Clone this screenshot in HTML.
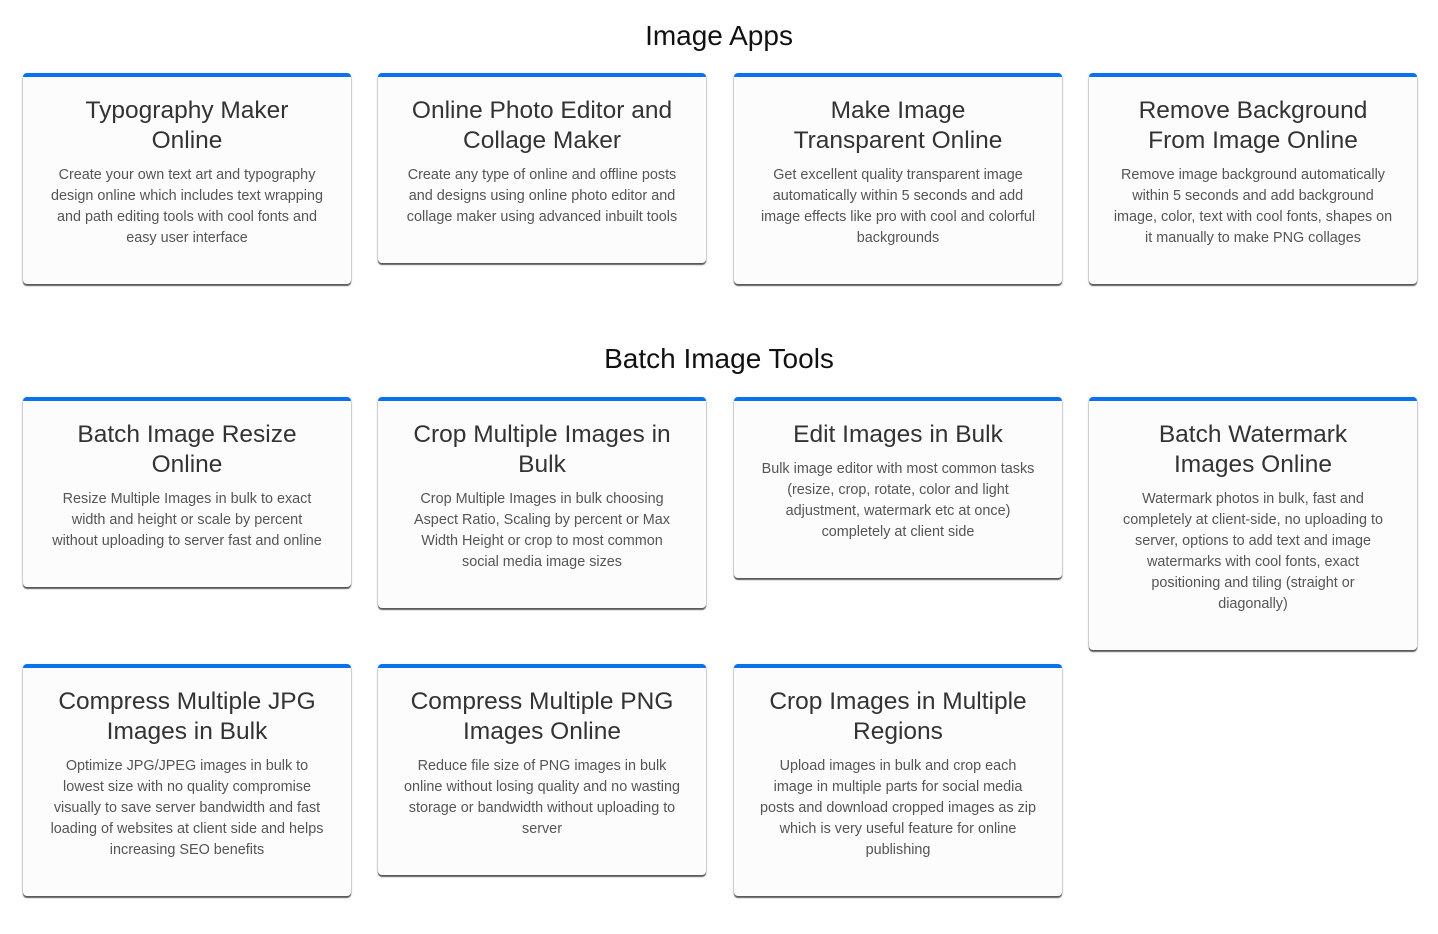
<!DOCTYPE html>
<html><head><meta charset="utf-8"><style>
body{margin:0;width:1438px;height:934px;background:#fff;position:relative;font-family:"Liberation Sans",sans-serif;overflow:hidden}
h2{position:absolute;left:0;width:1438px;text-align:center;margin:0;font-weight:normal;font-size:28px;color:#111;line-height:34px}
.c{position:absolute;width:328px;box-sizing:border-box;background:#fcfcfc;border-top:4px solid #0b72ee;border-radius:4px;box-shadow:0 1px 2px rgba(0,0,0,.35),0 2px 1px rgba(0,0,0,.55);text-align:center;padding:19px 6px 0}
.t{font-size:24.5px;line-height:30px;color:#333}
.d{font-size:14.4px;line-height:21px;color:#555;margin-top:9px;white-space:nowrap}
</style></head><body>
<h2 style="top:19px">Image Apps</h2>
<div class="c" style="left:23px;top:73px;height:211px"><div class="t">Typography Maker<br>Online</div><div class="d">Create your own text art and typography<br>design online which includes text wrapping<br>and path editing tools with cool fonts and<br>easy user interface</div></div>
<div class="c" style="left:378px;top:73px;height:190px"><div class="t">Online Photo Editor and<br>Collage Maker</div><div class="d">Create any type of online and offline posts<br>and designs using online photo editor and<br>collage maker using advanced inbuilt tools</div></div>
<div class="c" style="left:734px;top:73px;height:211px"><div class="t">Make Image<br>Transparent Online</div><div class="d">Get excellent quality transparent image<br>automatically within 5 seconds and add<br>image effects like pro with cool and colorful<br>backgrounds</div></div>
<div class="c" style="left:1089px;top:73px;height:211px"><div class="t">Remove Background<br>From Image Online</div><div class="d">Remove image background automatically<br>within 5 seconds and add background<br>image, color, text with cool fonts, shapes on<br>it manually to make PNG collages</div></div>
<h2 style="top:342px">Batch Image Tools</h2>
<div class="c" style="left:23px;top:397px;height:190px"><div class="t">Batch Image Resize<br>Online</div><div class="d">Resize Multiple Images in bulk to exact<br>width and height or scale by percent<br>without uploading to server fast and online</div></div>
<div class="c" style="left:378px;top:397px;height:211px"><div class="t">Crop Multiple Images in<br>Bulk</div><div class="d">Crop Multiple Images in bulk choosing<br>Aspect Ratio, Scaling by percent or Max<br>Width Height or crop to most common<br>social media image sizes</div></div>
<div class="c" style="left:734px;top:397px;height:181px"><div class="t">Edit Images in Bulk</div><div class="d">Bulk image editor with most common tasks<br>(resize, crop, rotate, color and light<br>adjustment, watermark etc at once)<br>completely at client side</div></div>
<div class="c" style="left:1089px;top:397px;height:253px"><div class="t">Batch Watermark<br>Images Online</div><div class="d">Watermark photos in bulk, fast and<br>completely at client-side, no uploading to<br>server, options to add text and image<br>watermarks with cool fonts, exact<br>positioning and tiling (straight or<br>diagonally)</div></div>
<div class="c" style="left:23px;top:664px;height:232px"><div class="t">Compress Multiple JPG<br>Images in Bulk</div><div class="d">Optimize JPG/JPEG images in bulk to<br>lowest size with no quality compromise<br>visually to save server bandwidth and fast<br>loading of websites at client side and helps<br>increasing SEO benefits</div></div>
<div class="c" style="left:378px;top:664px;height:211px"><div class="t">Compress Multiple PNG<br>Images Online</div><div class="d">Reduce file size of PNG images in bulk<br>online without losing quality and no wasting<br>storage or bandwidth without uploading to<br>server</div></div>
<div class="c" style="left:734px;top:664px;height:232px"><div class="t">Crop Images in Multiple<br>Regions</div><div class="d">Upload images in bulk and crop each<br>image in multiple parts for social media<br>posts and download cropped images as zip<br>which is very useful feature for online<br>publishing</div></div>
</body></html>
